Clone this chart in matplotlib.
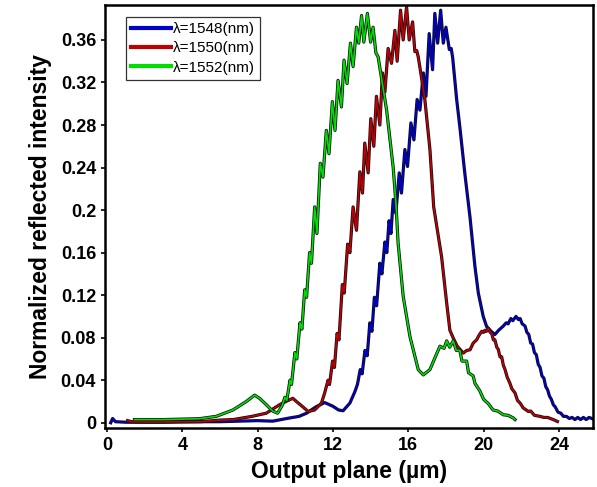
#!/usr/bin/env python3
import matplotlib
matplotlib.use("Agg")
import matplotlib.pyplot as plt
import matplotlib.patheffects as pe
from matplotlib.lines import Line2D

# lambda = 1548 nm
x_blue = [0.2, 0.3, 0.45, 1.0, 2.0, 3.0, 4.0, 5.0, 6.0, 7.0, 8.0, 8.8, 9.7,
          10.2, 10.6, 11.1, 11.56, 12.0, 12.3, 12.54, 12.9, 13.16, 13.30,
          13.45, 13.55, 13.70, 13.82, 13.96, 14.07, 14.20, 14.32, 14.49,
          14.60, 14.76, 14.86, 14.98, 15.08, 15.20, 15.34, 15.52, 15.64,
          15.82, 15.96, 16.14, 16.30, 16.47, 16.62, 16.80, 16.94, 17.11,
          17.29, 17.41, 17.56, 17.72, 17.86, 18.00, 18.18, 18.28, 18.36,
          18.57, 18.74, 19.0, 19.28, 19.54, 19.72, 19.98, 20.16, 20.40,
          20.60, 20.80, 21.05, 21.20, 21.30, 21.45, 21.55, 21.72, 21.85,
          21.94, 22.05, 22.2, 22.3, 22.4, 22.5, 22.6, 22.7, 22.8, 22.9, 23.0,
          23.1, 23.2, 23.3, 23.4, 23.5, 23.6, 23.7, 23.8, 23.95, 24.1, 24.24,
          24.4, 24.55, 24.7, 24.85, 25.0, 25.15, 25.3, 25.45, 25.6, 25.75]
y_blue = [0.000, 0.004, 0.001, 0.0005, 0.0005, 0.0005, 0.0008, 0.001, 0.001,
          0.0015, 0.002, 0.0015, 0.0045, 0.006, 0.009, 0.015, 0.019, 0.0155,
          0.012, 0.0113, 0.0185, 0.029, 0.036, 0.050, 0.046, 0.068, 0.063,
          0.094, 0.086, 0.118, 0.110, 0.150, 0.140, 0.170, 0.160, 0.190,
          0.178, 0.210, 0.197, 0.235, 0.216, 0.257, 0.241, 0.282, 0.266,
          0.304, 0.294, 0.329, 0.307, 0.366, 0.332, 0.385, 0.357, 0.388,
          0.357, 0.372, 0.351, 0.352, 0.343, 0.304, 0.278, 0.235, 0.193,
          0.147, 0.122, 0.100, 0.0905, 0.086, 0.083, 0.087, 0.091, 0.094,
          0.093, 0.098, 0.096, 0.100, 0.097, 0.098, 0.093, 0.091, 0.085,
          0.083, 0.075, 0.074, 0.066, 0.064, 0.055, 0.052, 0.044, 0.042,
          0.034, 0.031, 0.025, 0.022, 0.017, 0.015, 0.010, 0.009, 0.006,
          0.006, 0.004, 0.005, 0.003, 0.005, 0.003, 0.005, 0.003, 0.005,
          0.004]

# lambda = 1550 nm
x_red = [1.1, 1.3, 2.0, 3.0, 4.0, 5.0, 6.0, 6.7, 7.7, 8.46, 9.17, 9.5, 9.87,
         10.06, 10.4, 10.68, 11.03, 11.39, 11.56, 11.74, 11.82, 11.98, 12.08,
         12.22, 12.32, 12.50, 12.60, 12.78, 12.90, 13.07, 13.25, 13.43,
         13.57, 13.69, 13.87, 14.01, 14.17, 14.31, 14.49, 14.63, 14.76,
         14.93, 15.11, 15.29, 15.41, 15.59, 15.73, 15.91, 16.05, 16.23,
         16.35, 16.45, 16.53, 16.70, 16.88, 17.15, 17.35, 17.77, 18.04,
         18.21, 18.39, 18.6, 18.92, 19.1, 19.28, 19.45, 19.63, 19.75, 19.9,
         20.0, 20.07, 20.15, 20.25, 20.35, 20.43, 20.52, 20.6, 20.7, 20.78,
         20.87, 20.96, 21.05, 21.14, 21.25, 21.4, 21.5, 21.67, 21.8, 21.94,
         22.1, 22.38, 22.5, 22.7, 23.0, 23.2, 23.4, 23.7, 23.92]
y_red = [0.002, 0.001, 0.0008, 0.0008, 0.001, 0.001, 0.0025, 0.003, 0.006,
         0.009, 0.017, 0.020, 0.023, 0.020, 0.015, 0.0106, 0.012, 0.0185,
         0.028, 0.040, 0.036, 0.058, 0.052, 0.084, 0.078, 0.130, 0.122,
         0.168, 0.160, 0.203, 0.181, 0.236, 0.216, 0.263, 0.235, 0.286,
         0.260, 0.307, 0.280, 0.329, 0.311, 0.352, 0.338, 0.369, 0.340,
         0.388, 0.360, 0.391, 0.360, 0.377, 0.349, 0.350, 0.344, 0.325,
         0.304, 0.257, 0.203, 0.156, 0.1125, 0.087, 0.0796, 0.072, 0.0655,
         0.068, 0.0686, 0.075, 0.078, 0.082, 0.086, 0.085, 0.087, 0.086,
         0.089, 0.085, 0.084, 0.078, 0.078, 0.071, 0.069, 0.062, 0.062,
         0.054, 0.050, 0.043, 0.037, 0.032, 0.028, 0.021, 0.0185, 0.014,
         0.0106, 0.011, 0.007, 0.006, 0.005, 0.005, 0.003, 0.0012]

# lambda = 1552 nm
x_green = [1.46, 3.0, 4.9, 5.8, 6.69, 7.4, 7.84, 8.1, 8.46, 8.8, 9.06, 9.3,
           9.45, 9.55, 9.72, 9.80, 9.98, 10.08, 10.25, 10.35, 10.50, 10.60,
           10.76, 10.86, 11.03, 11.15, 11.33, 11.47, 11.65, 11.79, 11.97,
           12.11, 12.27, 12.45, 12.59, 12.75, 12.93, 13.07, 13.25, 13.37,
           13.52, 13.64, 13.83, 14.0, 14.13, 14.28, 14.4, 14.85, 15.2, 15.35,
           15.46, 15.73, 16.09, 16.53, 16.8, 17.15, 17.68, 17.9, 18.04, 18.2,
           18.39, 18.55, 18.74, 18.85, 19.1, 19.2, 19.45, 19.54, 19.8, 20.0,
           20.25, 20.5, 20.75, 21.05, 21.3, 21.58, 21.67]
y_green = [0.003, 0.003, 0.0038, 0.006, 0.012, 0.020, 0.026, 0.023, 0.017,
           0.011, 0.009, 0.016, 0.024, 0.021, 0.040, 0.036, 0.066, 0.060,
           0.094, 0.088, 0.125, 0.118, 0.160, 0.150, 0.203, 0.178, 0.244,
           0.231, 0.275, 0.253, 0.302, 0.275, 0.322, 0.297, 0.341, 0.319,
           0.357, 0.335, 0.372, 0.357, 0.383, 0.358, 0.385, 0.358, 0.372,
           0.348, 0.344, 0.294, 0.240, 0.205, 0.169, 0.119, 0.081, 0.050,
           0.045, 0.050, 0.072, 0.070, 0.077, 0.071, 0.077, 0.068, 0.068,
           0.058, 0.058, 0.047, 0.044, 0.037, 0.030, 0.022, 0.018, 0.012,
           0.011, 0.0075, 0.007, 0.0045, 0.003]

labels = ["\u03bb=1548(nm)", "\u03bb=1550(nm)", "\u03bb=1552(nm)"]
colors = ["#0000c8", "#c00000", "#00dd00"]
x_ticks = [0, 4, 8, 12, 16, 20, 24]
y_ticks = [0, 0.04, 0.08, 0.12, 0.16, 0.2, 0.24, 0.28, 0.32, 0.36]
y_tick_labels = ["0", "0.04", "0.08", "0.12", "0.16", "0.2", "0.24", "0.28",
                 "0.32", "0.36"]


def main():
    plt.rcParams["font.family"] = ["Liberation Sans", "DejaVu Sans"]
    fig = plt.figure(figsize=(5.97, 4.87), dpi=100)
    ax = fig.add_axes([0.176, 0.121, 0.817, 0.869])

    outline = [pe.Stroke(linewidth=2.3, foreground="#101018"), pe.Normal()]
    for xs, ys, c in zip([x_blue, x_red, x_green], [y_blue, y_red, y_green],
                         colors):
        ax.plot(xs, ys, color=c, lw=1.2, path_effects=outline)

    ax.set_xlim(-0.1, 25.8)
    ax.set_ylim(-0.005, 0.393)
    ax.set_xticks(x_ticks)
    ax.set_yticks(y_ticks)
    ax.set_yticklabels(y_tick_labels)
    ax.tick_params(direction="out", length=3, width=1.2, labelsize=13)
    for lab in ax.get_xticklabels() + ax.get_yticklabels():
        lab.set_fontweight("bold")
    for sp in ax.spines.values():
        sp.set_linewidth(1.8)

    ax.set_xlabel("Output plane (\u00b5m)", fontsize=16.5, fontweight="bold",
                  labelpad=4)
    ax.set_ylabel("Normalized reflected intensity", fontsize=16.5,
                  fontweight="bold", labelpad=6)

    handles = [Line2D([], [], color=c, lw=3) for c in colors]
    leg = ax.legend(handles, labels, loc="upper left",
                    bbox_to_anchor=(0.043, 0.972), fontsize=11,
                    handlelength=2.6, handletextpad=0.1, labelspacing=0.35,
                    borderpad=0.35, borderaxespad=0, fancybox=False,
                    framealpha=1)
    leg.get_frame().set_edgecolor("#333333")
    leg.get_frame().set_linewidth(0.9)

    fig.savefig("out.png", dpi=100)


if __name__ == "__main__":
    main()
